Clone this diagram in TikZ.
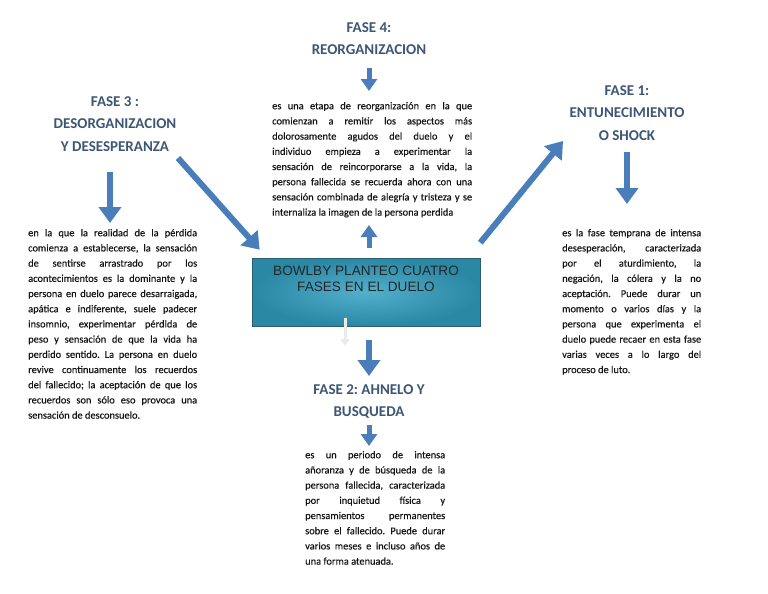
\documentclass[tikz,border=0pt]{standalone}
\usepackage{fontspec}
\setmainfont{Carlito}
\newfontfamily\arialf{Liberation Sans}
\newfontfamily\bodyf[FakeBold=0.4]{Carlito}
\usetikzlibrary{arrows.meta}
\definecolor{headc}{HTML}{3D5676}
\definecolor{arrc}{HTML}{4A7EBB}
\definecolor{boxin}{HTML}{52B0CC}
\definecolor{boxout}{HTML}{2A88A4}
\definecolor{boxline}{HTML}{2B5F70}
\definecolor{bodyc}{HTML}{151515}
\frenchspacing
\begin{document}
\begin{tikzpicture}[x=1pt,y=-1pt,
  head/.style={anchor=north, inner sep=0pt, align=center, text=headc,
    font=\fontsize{15}{22.5}\selectfont\bfseries},
  body/.style={anchor=north west, inner sep=0pt, align=justify, text=bodyc,
    font=\bodyf\fontsize{10.4}{15.2}\selectfont},
  bigarrow/.style={draw=arrc, line width=6pt, -{Triangle[width=22pt,length=16pt]}},
  smallarrow/.style={draw=arrc, line width=5pt, -{Triangle[width=16pt,length=12pt]}},
  ghostarrow/.style={draw=black!8, line width=3pt, -{Triangle[width=9pt,length=7pt]}},
]
\useasboundingbox (0,0) rectangle (768,594);

% headings
\node[head] (h4) at (369,16.5) {\strut FASE 4:\\REORGANIZACION};
\node[head] (h3) at (115,90.5) {\strut FASE 3 :\\DESORGANIZACION\\Y DESESPERANZA};
\node[head] (h1) at (627,79.5) {\strut FASE 1:\\ENTUNECIMIENTO\\O SHOCK};
\node[head] (h2) at (369,378.5) {\strut FASE 2: AHNELO Y\\BUSQUEDA};

% central box
\node[draw=boxline, line width=0.6pt, shading=radial, inner color=boxin, outer color=boxout,
  minimum width=228pt, minimum height=68pt, inner sep=0pt] (box) at (366,292) {};
\node[anchor=north, inner sep=0pt, align=center,
  font=\arialf\fontsize{13.6}{16}\selectfont, text=black!85] (boxtext) at (366,265.5)
  {BOWLBY PLANTEO CUATRO\\FASES EN EL DUELO};

% body texts
\node[body, text width=200pt] (t4) at (272,98.4) {\strut es una etapa de reorganización en la que\linebreak
comienzan a remitir los aspectos más\linebreak
dolorosamente agudos del duelo y el\linebreak
individuo empieza a experimentar la\linebreak
sensación de reincorporarse a la vida, la\linebreak
persona fallecida se recuerda ahora con una\linebreak
sensación combinada de alegría y tristeza y se\linebreak
internaliza la imagen de la persona perdida};

\node[body, text width=169pt] (t3) at (28,225.4) {\strut en la que la realidad de la pérdida\linebreak
comienza a establecerse, la sensación\linebreak
de sentirse arrastrado por los\linebreak
acontecimientos es la dominante y la\linebreak
persona en duelo parece desarraigada,\linebreak
apática e indiferente, suele padecer\linebreak
insomnio, experimentar pérdida de\linebreak
peso y sensación de que la vida ha\linebreak
perdido sentido. La persona en duelo\linebreak
revive continuamente los recuerdos\linebreak
del fallecido; la aceptación de que los\linebreak
recuerdos son sólo eso provoca una\linebreak
sensación de desconsuelo.};

\node[body, text width=139pt] (t1) at (562,225.4) {\strut es la fase temprana de intensa\linebreak
desesperación, caracterizada\linebreak
por el aturdimiento, la\linebreak
negación, la cólera y la no\linebreak
aceptación. Puede durar un\linebreak
momento o varios días y la\linebreak
persona que experimenta el\linebreak
duelo puede recaer en esta fase\linebreak
varias veces a lo largo del\linebreak
proceso de luto.};

\node[body, text width=140pt] (t2) at (305,447.4) {\strut es un periodo de intensa\linebreak
añoranza y de búsqueda de la\linebreak
persona fallecida, caracterizada\linebreak
por inquietud física y\linebreak
pensamientos permanentes\linebreak
sobre el fallecido. Puede durar\linebreak
varios meses e incluso años de\linebreak
una forma atenuada.};

% arrow end points
\coordinate (a4s) at (369,68);   \coordinate (a4e) at (369,91);
\coordinate (a3s) at (110,172);  \coordinate (a3e) at (110,223);
\coordinate (a1s) at (627,152);  \coordinate (a1e) at (627,204);
\coordinate (d3s) at (178,158);  \coordinate (d3e) at ([shift={(8pt,8pt)}]box.north west);
\coordinate (d1s) at ([shift={(0pt,15pt)}]box.north east); \coordinate (d1e) at (563,141);
\coordinate (ups) at ([shift={(3pt,10pt)}]box.north); \coordinate (upe) at (369,225);
\coordinate (dns) at (369,340);  \coordinate (dne) at (369,376);
\coordinate (b2s) at (369,425);  \coordinate (b2e) at (369,446);
\coordinate (gs) at (345,318);   \coordinate (ge) at (345,346);

\draw[smallarrow] (a4s) -- (a4e);
\draw[bigarrow] (a3s) -- (a3e);
\draw[bigarrow] (a1s) -- (a1e);
\draw[bigarrow] (d3s) -- (d3e);
\draw[bigarrow] (d1s) -- (d1e);
\draw[smallarrow] (ups) -- (upe);
\draw[bigarrow] (dns) -- (dne);
\draw[smallarrow] (b2s) -- (b2e);
\draw[ghostarrow] (gs) -- (ge);
\end{tikzpicture}
\end{document}
